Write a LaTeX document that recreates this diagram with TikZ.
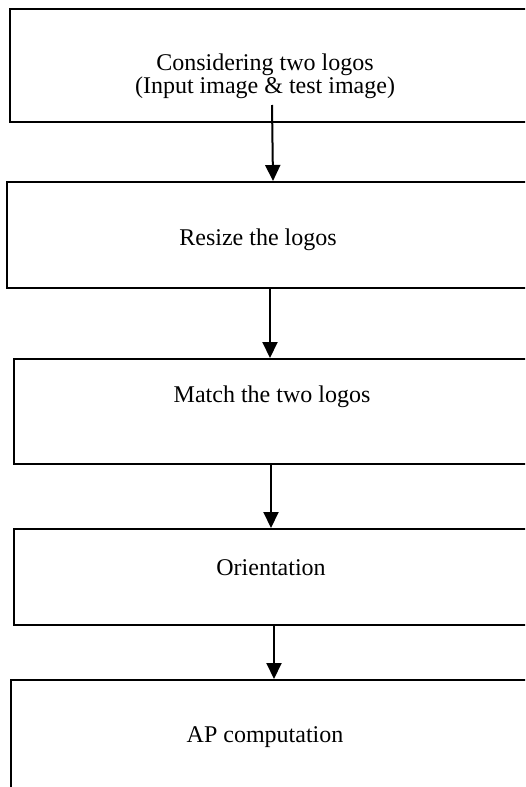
\documentclass[tikz,border=0pt]{standalone}
\usepackage{fontspec}
\setmainfont{Liberation Serif}
\usetikzlibrary{arrows.meta}
\begin{document}
\begin{tikzpicture}[x=0.5pt,y=-0.5pt,
  box/.style={draw=black, line width=1pt, rectangle, inner sep=0pt},
  lbl/.style={font=\fontsize{12}{11.5}\selectfont, align=center, inner sep=0pt},
  arr/.style={draw=black, line width=1pt, -{Triangle[width=7.5pt,length=8pt]}}]
\useasboundingbox (0,0) rectangle (525,787);
\clip (0,0) rectangle (525,787);
\node[box, minimum width=260pt, minimum height=56.5pt] (b1) at (270,65.5) {};
\node[box, minimum width=261.5pt, minimum height=53pt] (b2) at (268.5,235) {};
\node[box, minimum width=258pt, minimum height=52.5pt] (b3) at (272,411.5) {};
\node[box, minimum width=258pt, minimum height=48pt] (b4) at (272,577) {};
\node[box, minimum width=259.5pt, minimum height=60pt] (b5) at (270.5,740) {};
\node[lbl] (t1) at (265,76.5) {Considering two logos\\(Input image \& test image)};
\node[lbl] (t2) at (258,240) {Resize the logos};
\node[lbl] (t3) at (272,397) {Match the two logos};
\node[lbl] (t4) at (271,568) {Orientation};
\node[lbl] (t5) at (265,737) {AP computation};
\coordinate (s1) at (272,105);
\coordinate (e1) at (273,0);
\coordinate (s2) at (270,0);
\coordinate (s3) at (271,0);
\coordinate (s4) at (274,0);
\draw[arr] (s1) -- (b2.north -| e1);
\draw[arr] (b2.south -| s2) -- (b3.north -| s2);
\draw[arr] (b3.south -| s3) -- (b4.north -| s3);
\draw[arr] (b4.south -| s4) -- (b5.north -| s4);
\end{tikzpicture}
\end{document}
